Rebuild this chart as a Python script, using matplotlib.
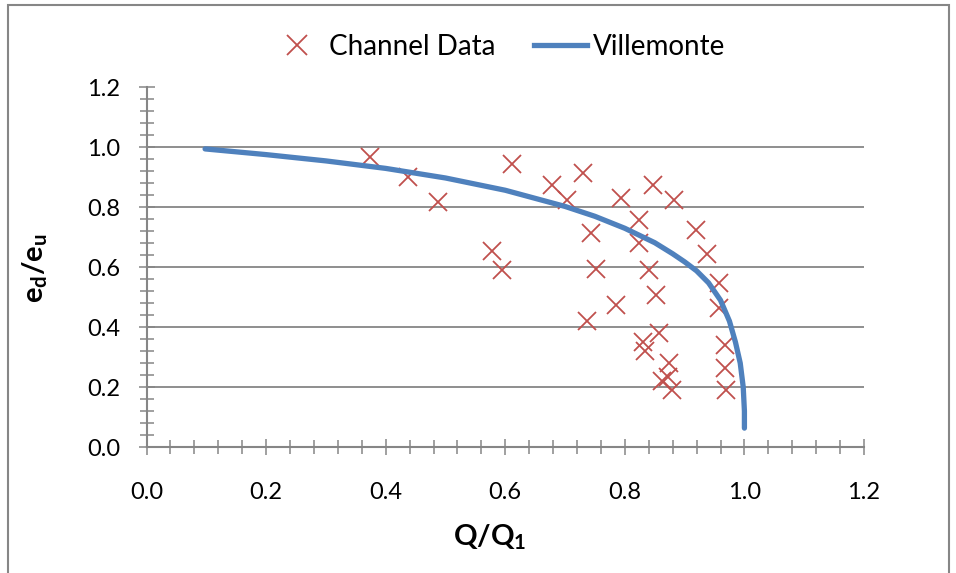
import matplotlib
matplotlib.use("Agg")
import matplotlib.pyplot as plt
from matplotlib.ticker import MultipleLocator, FormatStrFormatter
from matplotlib.patches import Rectangle
from matplotlib.lines import Line2D

plt.rcParams['font.family'] = ['Lato', 'DejaVu Sans']
plt.rcParams['mathtext.fontset'] = 'custom'
plt.rcParams['mathtext.rm'] = 'Lato'
plt.rcParams['mathtext.bf'] = 'Lato:bold'
plt.rcParams['mathtext.it'] = 'Lato:italic'

# Channel data (Q/Q1, ed/eu)
channel_x = [0.373, 0.437, 0.487, 0.612, 0.578, 0.595, 0.679, 0.730, 0.704, 0.793,
             0.847, 0.882, 0.823, 0.744, 0.823, 0.919, 0.937, 0.751, 0.841, 0.957,
             0.785, 0.852, 0.958, 0.736, 0.857, 0.830, 0.834, 0.968, 0.874, 0.968,
             0.862, 0.873, 0.879, 0.969]
channel_y = [0.968, 0.902, 0.819, 0.944, 0.654, 0.591, 0.874, 0.913, 0.824, 0.830,
             0.874, 0.824, 0.758, 0.713, 0.680, 0.724, 0.644, 0.593, 0.591, 0.547,
             0.474, 0.508, 0.463, 0.419, 0.382, 0.352, 0.319, 0.341, 0.280, 0.263,
             0.219, 0.235, 0.191, 0.191]

# Villemonte curve
vill_x = [0.098, 0.2, 0.3, 0.4, 0.5, 0.6, 0.7, 0.75, 0.8, 0.85, 0.88, 0.90, 0.92,
          0.94, 0.96, 0.975, 0.985, 0.993, 0.998, 1.0, 1.0]
vill_y = [0.995, 0.976, 0.955, 0.930, 0.898, 0.857, 0.803, 0.770, 0.730, 0.682,
          0.645, 0.618, 0.588, 0.548, 0.490, 0.420, 0.350, 0.280, 0.200, 0.120, 0.063]

x_ticks = [0.0, 0.2, 0.4, 0.6, 0.8, 1.0, 1.2]
y_ticks = [0.0, 0.2, 0.4, 0.6, 0.8, 1.0, 1.2]

W, H = 956, 573
fig = plt.figure(figsize=(W / 100, H / 100), dpi=100)
fig.patches.append(Rectangle((8 / W, -0.01), (949 - 8) / W, 1 - 5 / H + 0.01,
                             transform=fig.transFigure, fill=False,
                             edgecolor='#868686', linewidth=1.5))

left, right, top, bottom = 146.5, 864, 87.5, 447
ax = fig.add_axes([left / W, 1 - bottom / H, (right - left) / W, (bottom - top) / H])

gray = '#868686'
red = '#C0504D'
blue = '#4F81BD'

ax.plot(channel_x, channel_y, linestyle='none', marker='x', markersize=13,
        markeredgewidth=1.3, color=red, label='Channel Data', zorder=3)
ax.plot(vill_x, vill_y, color=blue, linewidth=3.8, solid_capstyle='round',
        solid_joinstyle='round', label='Villemonte', zorder=4)

ax.set_xlim(0, 1.2)
ax.set_ylim(0, 1.2)
ax.set_xticks(x_ticks)
ax.set_yticks(y_ticks)
ax.xaxis.set_major_formatter(FormatStrFormatter('%.1f'))
ax.yaxis.set_major_formatter(FormatStrFormatter('%.1f'))
ax.xaxis.set_minor_locator(MultipleLocator(0.04))
ax.yaxis.set_minor_locator(MultipleLocator(0.04))

ax.grid(axis='y', which='major', color=gray, linewidth=1.3)
ax.set_axisbelow(True)
for s in ['top', 'right']:
    ax.spines[s].set_visible(False)
for s in ['left', 'bottom']:
    ax.spines[s].set_color(gray)
    ax.spines[s].set_linewidth(1.5)

ax.tick_params(which='major', direction='inout', length=12, width=1.1, color=gray,
               labelsize=17)
ax.tick_params(which='minor', direction='inout', length=10, width=1.1, color=gray)
ax.tick_params(axis='y', which='major', pad=13)
ax.tick_params(axis='x', which='major', pad=19)

ax.set_xlabel(r'$\mathbf{Q/Q_1}$', fontsize=21)
ax.xaxis.set_label_coords((490 - left) / (right - left), -(537 - bottom) / (bottom - top),
                          transform=ax.transAxes)
ax.xaxis.label.set_va('center')
ax.set_ylabel(r'$\mathbf{e_d/e_u}$', fontsize=21)
ax.yaxis.set_label_coords(-(left - 35) / (right - left), (bottom - 268) / (bottom - top),
                          transform=ax.transAxes)
ax.yaxis.label.set_va('center')

handles = [Line2D([], [], linestyle='none', marker='x', markersize=14,
                  markeredgewidth=1.3, color=red),
           Line2D([], [], color=blue, linewidth=3.8)]
fig.legend(handles, ['Channel Data', 'Villemonte'], loc='center',
           bbox_to_anchor=(498 / W, 1 - 47 / H), ncol=2, frameon=False,
           fontsize=20, handlelength=1.9, handletextpad=0.2, columnspacing=1.4)

fig.savefig('out.png', dpi=100)
